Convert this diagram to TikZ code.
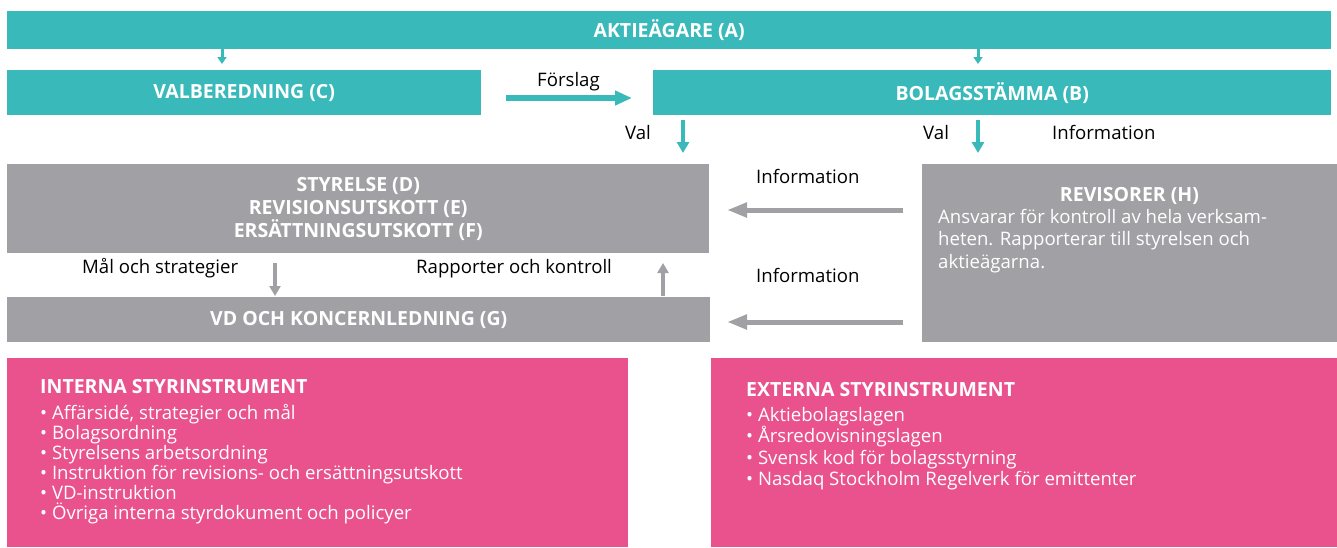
\documentclass[tikz,border=0pt]{standalone}
\usepackage{fontspec}
\setmainfont{Open Sans}
\usepackage{xcolor}
\usetikzlibrary{arrows.meta}

\definecolor{aqua}{HTML}{3AB9BB}
\definecolor{stone}{HTML}{A1A1A5}
\definecolor{rose}{HTML}{E9528C}

\tikzset{
  box/.style={inner sep=0pt, anchor=north west, text=white, align=center,
    font=\fontsize{19.5}{23}\selectfont\bfseries},
  aquabox/.style={box, fill=aqua},
  stonebox/.style={box, fill=stone},
  rosebox/.style={box, fill=rose},
  head/.style={inner sep=0pt, text=white, font=\fontsize{19.5}{23}\selectfont\bfseries},
  body/.style={inner sep=0pt, anchor=base west, align=left, text=white},
  lbl/.style={inner sep=0pt, anchor=base west, font=\fontsize{18.6}{20}\selectfont},
  aquaarrow/.style={draw=aqua, line width=4pt, -{Triangle[length=11pt,width=12pt]}},
  smallarrow/.style={draw=aqua, line width=3pt, -{Triangle[length=7pt,width=9pt]}},
  stonearrow/.style={draw=stone, line width=4pt, -{Triangle[length=10pt,width=11pt]}},
  infoarrow/.style={draw=stone, line width=5pt, -{Triangle[length=20pt,width=14pt]}},
}

\begin{document}
\begin{tikzpicture}[x=1pt, y=-1pt]
        \useasboundingbox (0,0) rectangle (1337,547);
        %% boxes
        \node[aquabox, minimum width=1324, minimum height=38] (A) at (7,11) {AKTIEÄGARE (A)};
        \node[aquabox, minimum width=474, minimum height=45] (C) at (7,70) {VALBEREDNING (C)};
        \node[aquabox, minimum width=678, minimum height=45] (B) at (653,70) {BOLAGSSTÄMMA (B)};
        \node[stonebox, minimum width=702, minimum height=89] (D) at (7,164) {STYRELSE (D)\\REVISIONSUTSKOTT (E)\\ERSÄTTNINGSUTSKOTT (F)};
        \node[stonebox, minimum width=703, minimum height=45] (G) at (7,297) {VD OCH KONCERNLEDNING (G)};
        \node[stonebox, minimum width=415, minimum height=178] (H) at (922,164) {};
        \node[rosebox, minimum width=621, minimum height=189] (I) at (7,358) {};
        \node[rosebox, minimum width=626, minimum height=189] (X) at (711,358) {};
        %% box texts (body nodes sit on the baseline of their last line)
        \node[head, anchor=base] (Hhead) at (1129.5,201) {REVISORER (H)};
        \node[body, font=\fontsize{18.6}{22.5}\selectfont] (Hbody) at (938,268)
          {Ansvarar för kontroll av hela verksam-\\heten. Rapporterar till styrelsen och\\aktieägarna.};
        \node[head, anchor=base west] (Ihead) at (40,393) {INTERNA STYRINSTRUMENT};
        \node[body, font=\fontsize{18.6}{20}\selectfont] (Ibody) at (40,519)
          {• Affärsidé, strategier och mål\\• Bolagsordning\\• Styrelsens arbetsordning\\• Instruktion för revisions- och ersättningsutskott\\• VD-instruktion\\• Övriga interna styrdokument och policyer};
        \node[head, anchor=base west] (Xhead) at (746,396) {EXTERNA STYRINSTRUMENT};
        \node[body, font=\fontsize{18.6}{21.4}\selectfont] (Xbody) at (746,485.7)
          {• Aktiebolagslagen\\• Årsredovisningslagen\\• Svensk kod för bolagsstyrning\\• Nasdaq Stockholm Regelverk för emittenter};
        %% labels
        \node[lbl] (forslag) at (537,86) {Förslag};
        \node[lbl] (val1) at (625,139) {Val};
        \node[lbl] (val2) at (923,139) {Val};
        \node[lbl] (info1) at (1052,139) {Information};
        \node[lbl] (info2) at (756,183) {Information};
        \node[lbl] (info3) at (756,282) {Information};
        \node[lbl] (mal) at (82,273) {Mål och strategier};
        \node[lbl] (rapp) at (416,273) {Rapporter och kontroll};
        %% arrow ends
        \coordinate (a1) at (222,49);  \coordinate (a2) at (222,64);
        \coordinate (a3) at (978,49);  \coordinate (a4) at (978,64);
        \coordinate (f1) at (506,98);  \coordinate (f2) at (632,98);
        \coordinate (v1) at (683,120); \coordinate (v2) at (683,153);
        \coordinate (v3) at (978,120); \coordinate (v4) at (978,153);
        \coordinate (m1) at (275,263); \coordinate (m2) at (275,296);
        \coordinate (r1) at (663,296); \coordinate (r2) at (663,263);
        \coordinate (i1) at (903,210); \coordinate (i2) at (727,210);
        \coordinate (i3) at (903,322); \coordinate (i4) at (727,322);
        %% arrows
        \draw[smallarrow] (a1) -- (a2);
        \draw[smallarrow] (a3) -- (a4);
        \draw[aquaarrow, line width=6pt, -{Triangle[length=17pt,width=14pt]}] (f1) -- (f2);
        \draw[aquaarrow] (v1) -- (v2);
        \draw[aquaarrow] (v3) -- (v4);
        \draw[stonearrow] (m1) -- (m2);
        \draw[stonearrow] (r1) -- (r2);
        \draw[infoarrow] (i1) -- (i2);
        \draw[infoarrow] (i3) -- (i4);
\end{tikzpicture}
\end{document}
